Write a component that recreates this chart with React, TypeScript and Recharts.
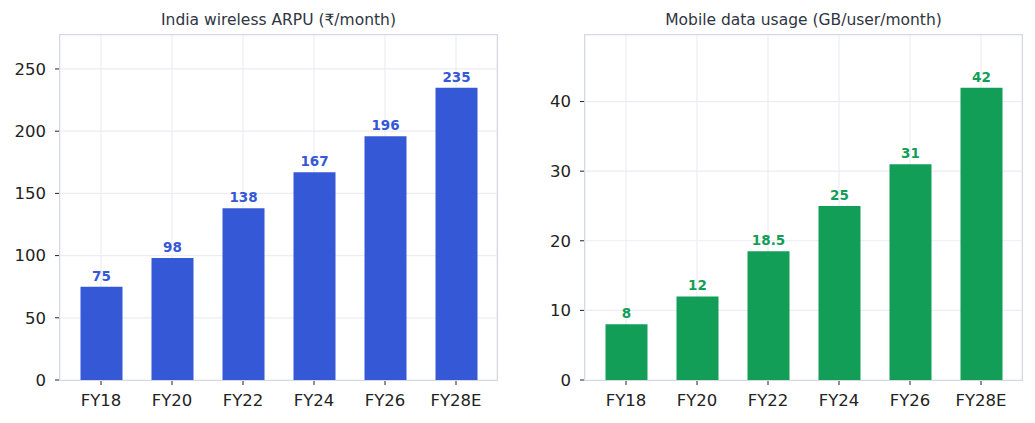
import { BarChart, Bar, XAxis, YAxis, CartesianGrid, LabelList } from "recharts"

const years = ["FY18", "FY20", "FY22", "FY24", "FY26", "FY28E"]
const arpu = [75, 98, 138, 167, 196, 235]
const dataUsage = [8, 12, 18.5, 25, 31, 42]
const arpuTicks = [0, 50, 100, 150, 200, 250]
const usageTicks = [0, 10, 20, 30, 40]

const FONT = "'DejaVu Sans', sans-serif"
const FRAME = "#d3d8e3"
const GRID = "#ebedf3"
const INK = "#222222"

interface PanelProps {
  title: string
  values: number[]
  ticks: number[]
  yMax: number
  color: string
  left: number
}

function Panel({ title, values, ticks, yMax, color, left }: PanelProps) {
  const rows = years.map((year, i) => ({ year, value: values[i] }))
  return (
    <div style={{ position: "absolute", left, top: 0, width: 517, height: 423 }}>
      <div
        style={{
          position: "absolute",
          left: 60,
          width: 437,
          top: 12,
          lineHeight: "16px",
          textAlign: "center",
          fontFamily: FONT,
          fontSize: 15.5,
          color: "#2f3542"
        }}
      >
        {title}
      </div>
      <BarChart
        width={517}
        height={423}
        data={rows}
        margin={{ top: 35, right: 20, bottom: 0, left: 0 }}
        barCategoryGap={0}
      >
        <CartesianGrid stroke={GRID} strokeWidth={1.2} />
        <XAxis
          dataKey="year"
          padding={{ left: 5.5, right: 5.5 }}
          height={43}
          tickSize={5}
          tickMargin={9}
          tickLine={{ stroke: INK }}
          tick={{ fill: INK, fontSize: 16.5, fontFamily: FONT }}
          axisLine={false}
        />
        <YAxis
          domain={[0, yMax]}
          ticks={ticks}
          width={60}
          tickSize={5}
          tickMargin={9}
          tickLine={{ stroke: INK }}
          tick={{ fill: INK, fontSize: 16.5, fontFamily: FONT }}
          axisLine={false}
        />
        <Bar dataKey="value" fill={color} barSize={42} isAnimationActive={false}>
          <LabelList
            dataKey="value"
            position="top"
            offset={6}
            fill={color}
            style={{ fontFamily: FONT, fontSize: 13.5, fontWeight: "bold" }}
          />
        </Bar>
      </BarChart>
      {/* plot frame */}
      <div
        style={{
          position: "absolute",
          left: 59,
          top: 34,
          width: 439,
          height: 347,
          border: `1.5px solid ${FRAME}`,
          boxSizing: "border-box",
          pointerEvents: "none"
        }}
      />
    </div>
  )
}

export default function App() {
  return (
    <div style={{ position: "absolute", left: 0, top: 0, width: 1035, height: 423, background: "#ffffff" }}>
      <Panel title="India wireless ARPU (₹/month)" values={arpu} ticks={arpuTicks} yMax={277.3} color="#3558d6" left={0} />
      <Panel title="Mobile data usage (GB/user/month)" values={dataUsage} ticks={usageTicks} yMax={49.56} color="#129e57" left={525} />
    </div>
  )
}
